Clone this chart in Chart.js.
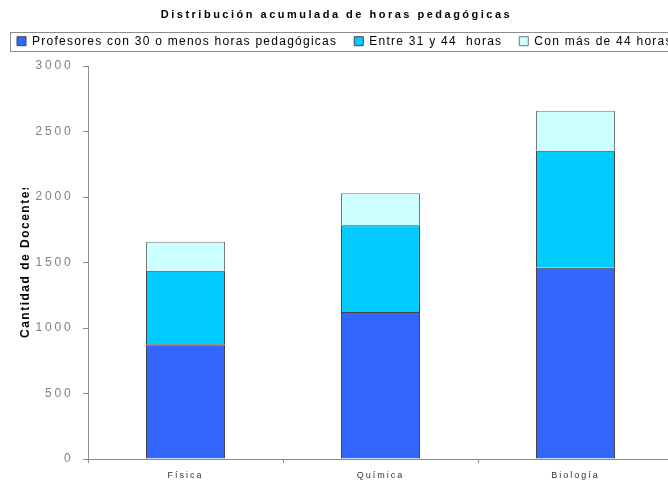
<!DOCTYPE html>
<html lang="es">
<head>
<meta charset="utf-8">
<title>Distribución acumulada de horas pedagógicas</title>
<script src="https://cdn.jsdelivr.net/npm/chart.js@4.4.1/dist/chart.umd.min.js"></script>
<style>
  html, body { margin: 0; padding: 0; background: #fff; overflow: hidden; }
  #wrap { width: 700px; height: 481px; }
</style>
</head>
<body>
<div id="wrap"><canvas id="chart" width="700" height="481"></canvas></div>
<script>
// Subjects on the x axis
const categories = ['Física', 'Química', 'Biología'];

// Teachers by weekly teaching hours, stacked per subject
const upTo30Hours = [876, 1122, 1460];
const from31To44Hours = [561, 662, 893];
const over44Hours = [222, 244, 306];

const seriesNames = [
  'Profesores con 30 o menos horas pedagógicas',
  'Entre 31 y 44  horas',
  'Con más de 44 horas'
];

const yTicks = [0, 500, 1000, 1500, 2000, 2500, 3000];

const FONT = "'Liberation Sans', Arial, sans-serif";

// Letter-spaced text for a drawing method of a chart element
function withSpacing(proto, method, spacing) {
  const original = proto[method];
  proto[method] = function (...args) {
    const ctx = this.ctx;
    ctx.save();
    ctx.letterSpacing = spacing;
    const result = original.apply(this, args);
    ctx.restore();
    return result;
  };
}

const LegendEl = Chart.Legend._element;
const TitleEl = Chart.Title._element;
const LEGEND_SPACING = '1.25px';

// Legend keeps all three items on one row, even past the right edge
const legendUpdate = LegendEl.prototype.update;
LegendEl.prototype.update = function (maxWidth, maxHeight, margins) {
  return legendUpdate.call(this, maxWidth + 300, maxHeight, margins);
};
const legendFit = LegendEl.prototype.fit;
LegendEl.prototype.fit = function () {
  const ctx = this.ctx;
  ctx.save();
  ctx.letterSpacing = LEGEND_SPACING;
  legendFit.call(this);
  ctx.restore();
  this.height = 47.8;
};
const legendDraw = LegendEl.prototype.draw;
LegendEl.prototype.draw = function () {
  const ctx = this.ctx;
  const right = this.right;
  this.right = right + 300;
  ctx.save();
  ctx.letterSpacing = LEGEND_SPACING;
  legendDraw.call(this);
  ctx.restore();
  this.right = right;
};
withSpacing(TitleEl.prototype, 'draw', '2.5px');
withSpacing(Chart.CategoryScale.prototype, 'drawLabels', '2px');
withSpacing(Chart.LinearScale.prototype, 'drawLabels', '2.8px');

// Frame around the legend row and the rotated y-axis title
const decorations = {
  id: 'decorations',
  afterDraw(chart) {
    const ctx = chart.ctx;
    ctx.save();
    ctx.strokeStyle = '#8c8c8c';
    ctx.lineWidth = 1;
    ctx.strokeRect(10.5, 32.5, 700, 19);
    ctx.restore();

    ctx.save();
    ctx.beginPath();
    ctx.rect(0, 188, 60, 300);
    ctx.clip();
    ctx.translate(29, 338);
    ctx.rotate(-Math.PI / 2);
    ctx.font = 'bold 12px ' + FONT;
    ctx.letterSpacing = '1.5px';
    ctx.fillStyle = '#000';
    ctx.textAlign = 'left';
    ctx.textBaseline = 'alphabetic';
    ctx.fillText('Cantidad de Docentes', 0, 0);
    ctx.restore();
  }
};

const outline = '#444';

new Chart(document.getElementById('chart'), {
  type: 'bar',
  data: {
    labels: categories,
    datasets: [
      { label: seriesNames[0], data: upTo30Hours, backgroundColor: '#3366ff', borderColor: outline, borderWidth: 1 },
      { label: seriesNames[1], data: from31To44Hours, backgroundColor: '#00ccff', borderColor: outline, borderWidth: 1 },
      { label: seriesNames[2], data: over44Hours, backgroundColor: '#ccffff', borderColor: '#777', borderWidth: 1 }
    ]
  },
  options: {
    responsive: false,
    animation: false,
    devicePixelRatio: 1,
    layout: { padding: { left: 0, right: 27, top: 0, bottom: 0 } },
    datasets: { bar: { barPercentage: 0.405, categoryPercentage: 1 } },
    plugins: {
      tooltip: { enabled: false },
      title: {
        display: true,
        text: 'Distribución acumulada de horas pedagógicas',
        color: '#000',
        font: { family: FONT, size: 11, weight: 'bold' },
        padding: { top: 8, bottom: -3 }
      },
      legend: {
        display: true,
        position: 'top',
        align: 'start',
        labels: {
          color: '#000',
          font: { family: FONT, size: 12 },
          boxWidth: 9,
          boxHeight: 9,
          padding: 17
        }
      }
    },
    scales: {
      x: {
        stacked: true,
        offset: true,
        grid: { display: true, drawOnChartArea: false, drawTicks: true, tickLength: 4, color: '#8c8c8c', offset: true },
        border: { display: true, color: '#8c8c8c' },
        ticks: { color: '#333', font: { family: FONT, size: 9 }, padding: 7, maxRotation: 0 },
        afterFit(scale) { scale.height = 22; }
      },
      y: {
        stacked: true,
        min: 0,
        max: 3000,
        afterBuildTicks(scale) { scale.ticks = yTicks.map(v => ({ value: v })); },
        grid: { display: true, drawOnChartArea: false, drawTicks: true, tickLength: 5, color: '#8c8c8c' },
        border: { display: true, color: '#8c8c8c' },
        ticks: { color: '#7f7f7f', font: { family: FONT, size: 12 }, padding: 9.5, callback: v => String(v) },
        afterFit(scale) { scale.width = 88; }
      }
    }
  },
  plugins: [decorations]
});
</script>
</body>
</html>
